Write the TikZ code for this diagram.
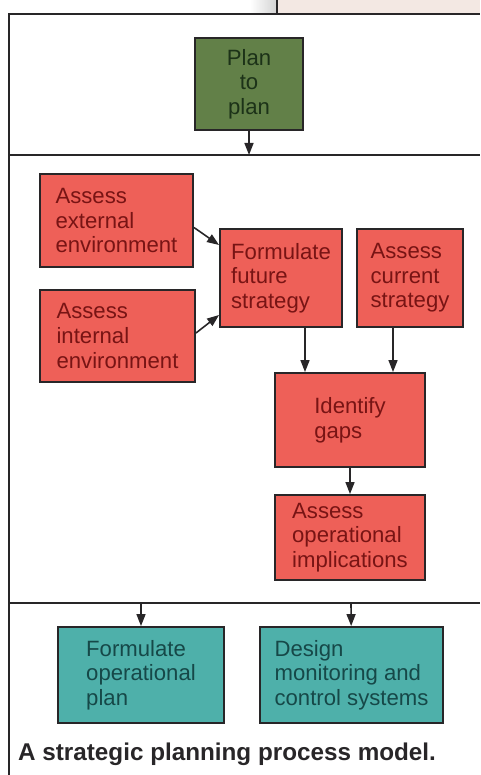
\documentclass[tikz,border=0pt]{standalone}
\usepackage{fontspec}
\setmainfont{Liberation Sans}
\usetikzlibrary{arrows.meta,positioning}
\definecolor{moss}{RGB}{98,128,72}
\definecolor{mossink}{RGB}{28,50,24}
\definecolor{coral}{RGB}{238,96,88}
\definecolor{coralink}{RGB}{120,20,20}
\definecolor{lagoon}{RGB}{78,176,170}
\definecolor{lagoonink}{RGB}{22,72,72}
\definecolor{ink}{RGB}{40,38,40}
\definecolor{paper}{RGB}{243,232,227}
\tikzset{
  >={Triangle[length=2.4mm,width=1.8mm]},
  stage/.style={draw=ink,line width=1.1pt,fill=#1,text=#1ink,align=left,
    font=\fontsize{12.6}{14}\selectfont,inner sep=2pt},
  stage/.default=coral,
  flow/.style={->,draw=ink,line width=0.9pt},
  rule/.style={draw=ink,line width=1.1pt},
}
\begin{document}
\begin{tikzpicture}[x=0.2mm,y=-0.2mm]
  \useasboundingbox (0,0) rectangle (480,775);
  % page edge above the frame
  \fill[paper] (277,0) rectangle (480,13);
  \shade[left color=white,right color=gray!35] (250,0) rectangle (277,13);
  \draw[rule] (277,0) -- (277,14);
  % frame and band rules
  \draw[rule] (8,14) -- (480,14);
  \draw[rule] (9,14) -- (9,775);
  \draw[rule] (9,155) -- (480,155);
  \draw[rule] (9,603) -- (480,603);
  \coordinate (band1) at (249,155);
  \coordinate (band2a) at (141,603);
  \coordinate (band2b) at (351,603);

  \node[stage=moss,minimum width=21.6mm,minimum height=18.4mm,align=center] (plan) at (249,84) {Plan\\to\\plan};

  \node[stage,minimum width=30.6mm,minimum height=18.6mm] (ext) at (116.5,220.5) {Assess\\external\\environment};
  \node[stage,minimum width=31mm,minimum height=18.4mm] (int) at (117.5,336) {Assess\\internal\\environment};
  \node[stage,minimum width=24.4mm,minimum height=19.6mm] (fut) at (281,278) {Formulate\\future\\strategy};
  \node[stage,minimum width=21.2mm,minimum height=19.6mm] (cur) at (410,278) {Assess\\current\\strategy};
  \node[stage,minimum width=30mm,minimum height=18.8mm] (gaps) at (350,420) {Identify\\gaps};
  \node[stage,minimum width=30mm,minimum height=17mm] (impl) at (350,537.5) {Assess\\operational\\implications};

  \node[stage=lagoon,minimum width=33.2mm,minimum height=19.2mm] (oper) at (141,675) {Formulate\\operational\\plan};
  \node[stage=lagoon,minimum width=36.6mm,minimum height=19.2mm] (ctrl) at (351.5,675) {Design\\monitoring and\\control systems};

  \node[anchor=base west,text=ink,font=\fontsize{13.8}{16}\selectfont\bfseries] (caption) at (12,760) {A strategic planning process model.};

  \draw[flow] (plan) -- (band1);
  \draw[flow] ([yshift=-1.4mm]ext.east) -- ([yshift=6.6mm]fut.west);
  \draw[flow] ([yshift=0.6mm]int.east) -- ([yshift=-7.4mm]fut.west);
  \draw[flow] ([xshift=4.8mm]fut.south) -- ([xshift=4.8mm]fut.south |- gaps.north);
  \draw[flow] ([xshift=-3.4mm]cur.south) -- ([xshift=-3.4mm]cur.south |- gaps.north);
  \draw[flow] (gaps) -- (impl);
  \draw[flow] (band2a) -- (oper);
  \draw[flow] (band2b) -- (ctrl);
\end{tikzpicture}
\end{document}
